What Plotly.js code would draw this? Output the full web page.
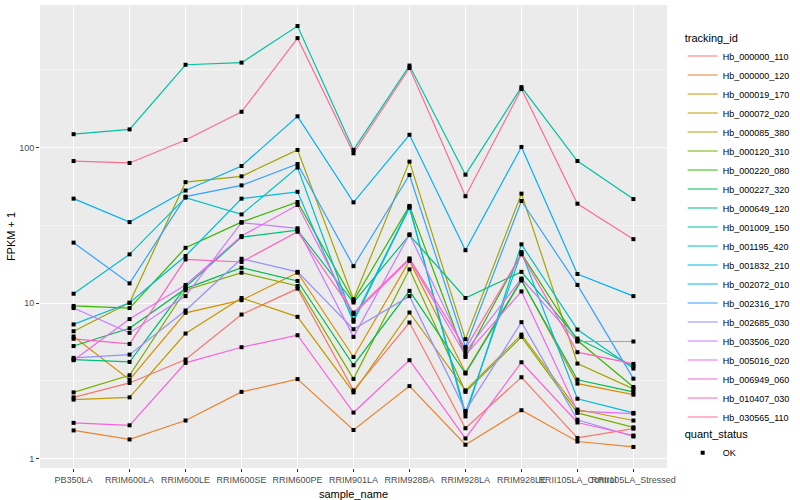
<!DOCTYPE html>
<html>
<head>
<meta charset="utf-8">
<script src="https://cdn.plot.ly/plotly-3.0.1.min.js"></script>
<style>html,body{margin:0;padding:0;background:#fff;}#chart{width:800px;height:500px;}</style>
</head>
<body>
<div id="chart"></div>
<script>
// Categories (x axis)
const categories = ["PB350LA","RRIM600LA","RRIM600LE","RRIM600SE","RRIM600PE","RRIM901LA","RRIM928BA","RRIM928LA","RRIM928LE","RRII105LA_Control","RRII105LA_Stressed"];

// Series names (tracking_id)
const trackingIds = ["Hb_000000_110","Hb_000000_120","Hb_000019_170","Hb_000072_020","Hb_000085_380","Hb_000120_310","Hb_000220_080","Hb_000227_320","Hb_000649_120","Hb_001009_150","Hb_001195_420","Hb_001832_210","Hb_002072_010","Hb_002316_170","Hb_002685_030","Hb_003506_020","Hb_005016_020","Hb_006949_060","Hb_010407_030","Hb_030565_110"];

// FPKM + 1 values per series, one value per category
const Hb_000000_110 = [2.48, 3.07, 4.34, 8.45, 12.4, 2.75, 7.51, 1.57, 3.34, 1.36, 1.56];
const Hb_000000_120 = [1.52, 1.33, 1.76, 2.69, 3.25, 1.53, 2.93, 1.23, 2.05, 1.29, 1.19];
const Hb_000019_170 = [6.1, 3.22, 8.67, 10.45, 15.7, 4.51, 18.7, 3.58, 14.2, 3.04, 2.58];
const Hb_000072_020 = [2.40, 2.48, 6.38, 10.8, 8.17, 2.67, 8.71, 2.75, 6.28, 2.07, 1.76];
const Hb_000085_380 = [6.6, 10.05, 60, 65.4, 96.7, 10.6, 81.3, 5.87, 50.6, 4.09, 2.81];
const Hb_000120_310 = [2.67, 3.44, 12.1, 15.7, 12.9, 3.26, 16.5, 2.69, 6.07, 1.97, 1.59];
const Hb_000220_080 = [9.6, 9.3, 22.7, 33.2, 44.7, 10.35, 42.2, 4.51, 20.9, 5.75, 2.89];
const Hb_000227_320 = [5.3, 6.9, 12.4, 16.9, 13.9, 3.99, 12.0, 3.53, 14.0, 3.22, 2.69];
const Hb_000649_120 = [4.34, 4.19, 12.7, 26.6, 29.5, 10.1, 27.4, 10.8, 15.9, 5.92, 3.93];
const Hb_001009_150 = [122, 131, 341, 352, 605, 96.7, 337, 67, 245, 82, 46.7];
const Hb_001195_420 = [11.5, 20.6, 47.7, 37.2, 74.5, 7.83, 41.7, 1.87, 23.9, 6.77, 3.80];
const Hb_001832_210 = [7.3, 10.05, 20.1, 47, 52, 7.6, 41.1, 1.97, 21.3, 2.43, 1.97];
const Hb_002072_010 = [47, 33.2, 53, 76.2, 159, 44.5, 121, 21.9, 101, 15.4, 11.1];
const Hb_002316_170 = [24.5, 13.4, 48.4, 57.2, 78.5, 17.3, 66.7, 5.23, 45.4, 13.1, 3.27];
const Hb_002685_030 = [4.45, 4.67, 8.97, 19.3, 15.9, 6.8, 11.1, 2.03, 7.55, 1.78, 1.39];
const Hb_003506_020 = [9.3, 6.44, 11.1, 32.9, 30.3, 6.07, 27.7, 4.86, 14.4, 5.67, 5.67];
const Hb_005016_020 = [4.3, 7.9, 13.1, 27, 42.8, 8.5, 19.1, 4.63, 11.9, 2.02, 1.95];
const Hb_006949_060 = [1.70, 1.64, 4.13, 5.21, 6.22, 1.98, 4.30, 1.35, 4.17, 1.71, 1.41];
const Hb_010407_030 = [5.9, 5.47, 19.1, 18.4, 28.8, 8.69, 19.4, 5.11, 20.6, 4.84, 4.07];
const Hb_030565_110 = [82, 79.7, 112, 170, 506, 92, 325, 48.7, 238, 43.6, 25.8];

const seriesValues = [Hb_000000_110, Hb_000000_120, Hb_000019_170, Hb_000072_020, Hb_000085_380, Hb_000120_310, Hb_000220_080, Hb_000227_320, Hb_000649_120, Hb_001009_150, Hb_001195_420, Hb_001832_210, Hb_002072_010, Hb_002316_170, Hb_002685_030, Hb_003506_020, Hb_005016_020, Hb_006949_060, Hb_010407_030, Hb_030565_110];

// quant_status legend
const quantStatus = ["OK"];

// Tick labels for the log y axis
const yTickVals = [1, 10, 100];
const yTickText = ["1", "10", "100"];
const yMinorVals = [3.1623, 31.623, 316.23];

// ggplot2 hue palette for 20 levels
const colors = ["#F8766D","#EA8331","#D89000","#C09B00","#A3A500","#7CAE00","#39B600","#00BB4E","#00BF7D","#00C1A3","#00BFC4","#00BAE0","#00B0F6","#35A2FF","#9590FF","#C77CFF","#E76BF3","#FA62DB","#FF62BC","#FF6C90"];

const traces = [];
trackingIds.forEach((id, i) => {
  traces.push({
    type: "scatter", mode: "lines", name: id,
    x: categories, y: seriesValues[i],
    line: {color: colors[i], width: 1.2},
    legend: "legend", hoverinfo: "skip"
  });
});
trackingIds.forEach((id, i) => {
  traces.push({
    type: "scatter", mode: "markers", name: id,
    x: categories, y: seriesValues[i],
    marker: {color: "#000000", symbol: "square", size: 4},
    showlegend: false, hoverinfo: "skip"
  });
});
quantStatus.forEach(q => {
  traces.push({
    type: "scatter", mode: "markers", name: q,
    x: [null], y: [null],
    marker: {color: "#000000", symbol: "square", size: 4},
    legend: "legend2"
  });
});

const yLo = Math.log10(1.19), yHi = Math.log10(605);
const pad = (yHi - yLo) * 0.05;

const layout = {
  width: 800, height: 500,
  margin: {l: 40, r: 116, t: 5, b: 32},
  paper_bgcolor: "#ffffff",
  plot_bgcolor: "#EBEBEB",
  font: {family: "Liberation Sans, Arial, sans-serif", color: "#000000"},
  xaxis: {
    type: "category",
    range: [-0.6, categories.length - 0.4],
    showgrid: true, gridcolor: "#ffffff", gridwidth: 1.1,
    zeroline: false, showline: false,
    ticks: "outside", ticklen: 3, tickcolor: "#333333", tickwidth: 1,
    tickangle: 0,
    tickfont: {size: 9, color: "#4D4D4D"},
    title: {text: "sample_name", font: {size: 11, color: "#000000"}, standoff: 7}
  },
  yaxis: {
    type: "log",
    range: [yLo - pad, yHi + pad],
    tickmode: "array", tickvals: yTickVals, ticktext: yTickText,
    showgrid: true, gridcolor: "#ffffff", gridwidth: 1.1,
    minor: {tickmode: "array", tickvals: yMinorVals, showgrid: true, gridcolor: "#ffffff", gridwidth: 0.5, ticks: ""},
    zeroline: false, showline: false,
    ticks: "outside", ticklen: 3, tickcolor: "#333333", tickwidth: 1,
    tickfont: {size: 9, color: "#4D4D4D"},
    title: {text: "FPKM + 1", font: {size: 11, color: "#000000"}, standoff: 1}
  },
  legend: {
    x: 1.025, xanchor: "left", y: 0.952, yanchor: "top",
    title: {text: "tracking_id", font: {size: 11}},
    font: {size: 9, color: "#000000"},
    tracegroupgap: 0, itemwidth: 30,
    bgcolor: "rgba(0,0,0,0)"
  },
  legend2: {
    x: 1.025, xanchor: "left", y: 0.095, yanchor: "top",
    title: {text: "quant_status", font: {size: 11}},
    font: {size: 9, color: "#000000"},
    itemwidth: 30,
    bgcolor: "rgba(0,0,0,0)"
  },
  showlegend: true
};

Plotly.newPlot("chart", traces, layout, {displayModeBar: false, staticPlot: true});
</script>
</body>
</html>
